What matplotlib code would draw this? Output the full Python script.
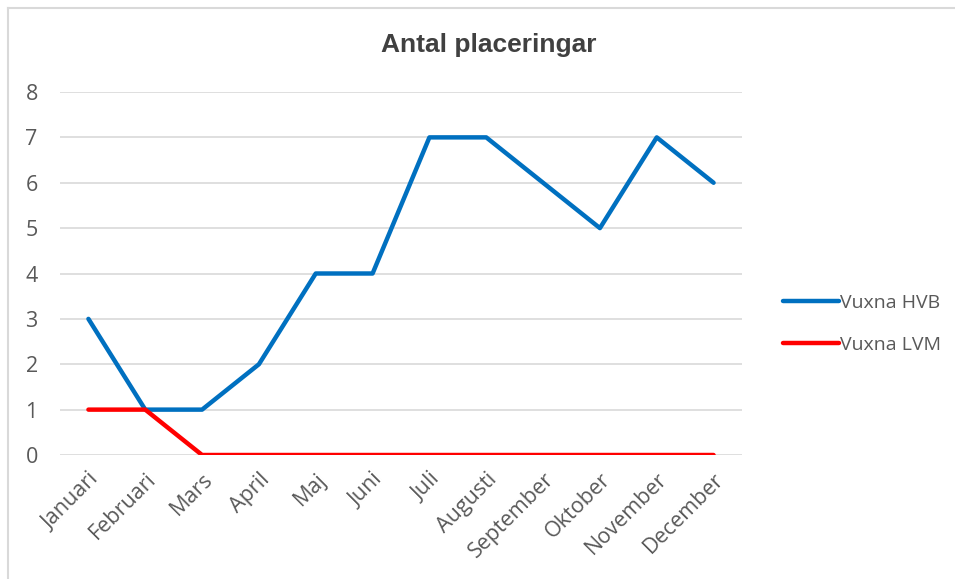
import matplotlib
matplotlib.use("Agg")
import matplotlib.pyplot as plt
from matplotlib.lines import Line2D

months = ["Januari", "Februari", "Mars", "April", "Maj", "Juni", "Juli",
          "Augusti", "September", "Oktober", "November", "December"]
hvb = [3, 1, 1, 2, 4, 4, 7, 7, 6, 5, 7, 6]
lvm = [1, 1, 0, 0, 0, 0, 0, 0, 0, 0, 0, 0]
series_names = ["Vuxna HVB", "Vuxna LVM"]
yticks = [0, 1, 2, 3, 4, 5, 6, 7, 8]

plt.rcParams['font.family'] = ['Open Sans', 'DejaVu Sans']

W, H = 955, 579
fig = plt.figure(figsize=(W / 100, H / 100), dpi=100)

# light frame (only top and left visible in the reference)
fig.add_artist(Line2D([8 / W, 8 / W], [0, 1 - 8 / H], transform=fig.transFigure,
                      color='#D9D9D9', lw=1.5))
fig.add_artist(Line2D([8 / W, 1], [1 - 8 / H, 1 - 8 / H], transform=fig.transFigure,
                      color='#D9D9D9', lw=1.5))

ax = fig.add_axes([60 / W, (H - 455) / H, 682 / W, 363 / H])
x = range(len(months))
ax.plot(x, hvb, color='#0070C0', lw=3.2, solid_capstyle='round', label=series_names[0], zorder=3)
ax.plot(x, lvm, color='#FF0000', lw=3.2, solid_capstyle='round', label=series_names[1], zorder=3)

ax.set_xlim(-0.5, len(months) - 0.5)
ax.set_ylim(0, 8)
ax.set_yticks(yticks)
ax.set_xticks(list(x))
ax.set_xticklabels(months, rotation=45, ha='right', rotation_mode='anchor')
ax.grid(axis='y', color='#D9D9D9', lw=1.2)
ax.set_axisbelow(True)
for s in ax.spines.values():
    s.set_visible(False)
ax.tick_params(length=0, labelsize=15.5, labelcolor='#595959')
ax.tick_params(axis='y', pad=16)
ax.tick_params(axis='x', pad=10)

fig.text(489 / W, 1 - 45 / H, "Antal placeringar", ha='center', va='center',
         fontsize=19, fontweight='bold', color='#404040', family='Liberation Sans')

leg = fig.legend(loc='center left', bbox_to_anchor=(765 / W, 1 - 324 / H), frameon=False,
                 fontsize=14, handlelength=2.9, handletextpad=0.05, labelspacing=1.25)
for t in leg.get_texts():
    t.set_color('#595959')

fig.savefig("out.png", dpi=100, facecolor='white')
